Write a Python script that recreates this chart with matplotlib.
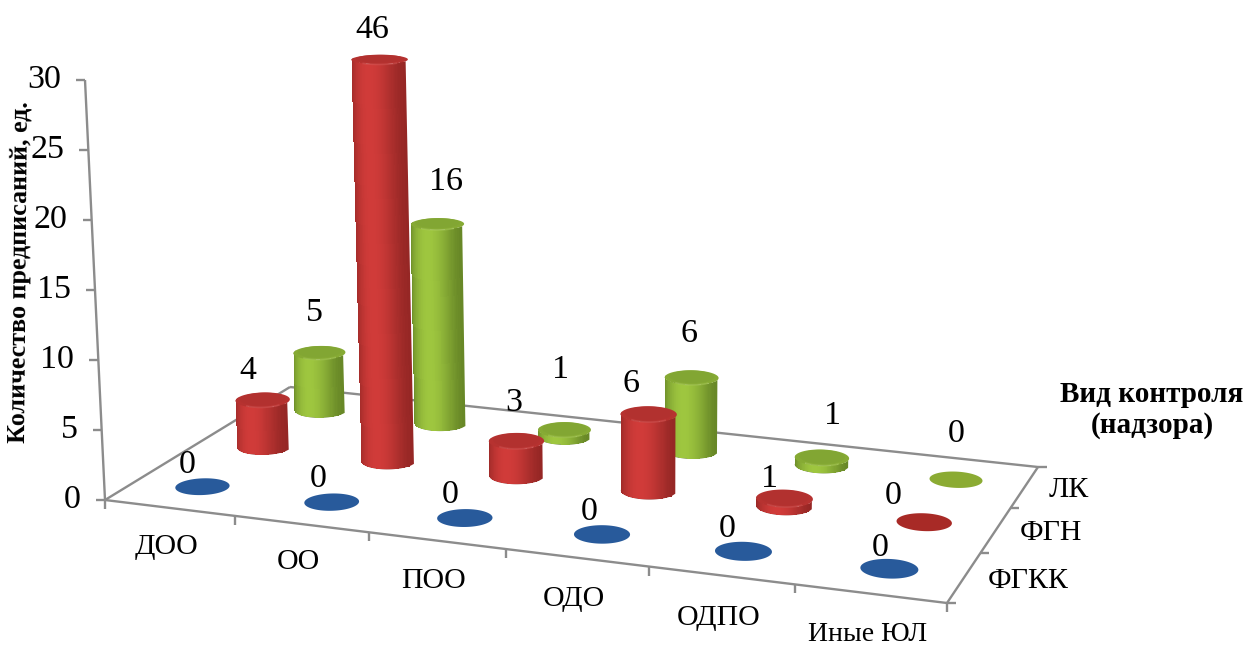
import numpy as np
import matplotlib
matplotlib.use("Agg")
import matplotlib.pyplot as plt
from matplotlib.colors import LinearSegmentedColormap, to_rgb
from matplotlib.patches import Polygon

categories = ["ДОО", "ОО", "ПОО", "ОДО", "ОДПО", "Иные ЮЛ"]
series_names = ["ФГКК", "ФГН", "ЛК"]
fgkk = [0, 0, 0, 0, 0, 0]
fgn = [4, 46, 3, 6, 1, 0]
lk = [5, 16, 1, 6, 1, 0]
y_ticks = [0, 5, 10, 15, 20, 25, 30]

plt.rcParams["font.family"] = ["Liberation Serif", "DejaVu Serif"]

# floor corners, top of the value axis and vertical vanishing line, in pixels
src = [(0, 0), (6, 0), (6, 3), (0, 3)]
dst = [(105, 500), (947, 603), (1038, 467), (290, 387)]
AXIS_TOP_Y = 80
Y_MAX = 30
VP_X = 650
VP_DIST = 11445
BAR_LIMIT = 30
CAP_INSET = 0.45
RADIUS = 0.19
BODY_RADIUS = 0.198

A = []
b = []
for (u, v), (x, y) in zip(src, dst):
    A.append([u, v, 1, 0, 0, 0, -u * x, -v * x])
    b.append(x)
    A.append([0, 0, 0, u, v, 1, -u * y, -v * y])
    b.append(y)
H = np.append(np.linalg.solve(np.array(A, float), np.array(b, float)), 1).reshape(3, 3)
ZY = (AXIS_TOP_Y - dst[0][1]) / Y_MAX


def project(u, v, z=0):
    w = H[2, 0] * u + H[2, 1] * v + H[2, 2]
    x = (H[0, 0] * u + H[0, 1] * v + H[0, 2]) / w
    y = (H[1, 0] * u + H[1, 1] * v + H[1, 2]) / w
    rise = ZY * z / w
    return x - (x - VP_X) * rise / VP_DIST, y + rise


def mix(c1, c2, t):
    c1 = np.array(to_rgb(c1))
    c2 = np.array(to_rgb(c2))
    return tuple(c1 + (c2 - c1) * t)


def bar_height(value):
    return min(value - CAP_INSET, BAR_LIMIT)


def draw_cylinder(ax, u, v, value, dark, light, flat, z):
    angles = np.linspace(0, 2 * np.pi, 181)
    if value == 0:
        bx, by = project(u + RADIUS * np.cos(angles), v + RADIUS * np.sin(angles), 0)
        ax.add_patch(Polygon(np.c_[bx, by], fc=flat, ec="none", zorder=z))
        return
    r = BODY_RADIUS
    height = bar_height(value)
    tx, ty = project(u + r * np.cos(angles), v + r * np.sin(angles), height)
    cx, cy = project(u, v, height)
    # smooth silhouette of the side first, the strips stay just inside it
    whole = np.linspace(-1, 1, 61)
    wu = u + r * whole
    wv = v - r * np.sqrt(1 - whole ** 2)
    ox, oy = project(wu, wv, 0)
    px, py = project(wu, wv, height)
    ax.add_patch(Polygon(np.r_[np.c_[ox, oy], np.c_[px, py][::-1]], fc=dark, ec="none", zorder=z))
    across = np.linspace(-0.96, 0.96, 61)
    su = u + r * across
    sv = v - r * np.sqrt(1 - across ** 2) * 0.97
    bx, by = project(su, sv, 0)
    ux, uy = project(su, sv, height)
    middle = 0.5 * (across[:-1] + across[1:])
    tone = ((1 - middle ** 2) ** 1.3).reshape(1, -1)
    cmap = LinearSegmentedColormap.from_list("side", [dark, light])
    ax.pcolormesh(np.vstack([bx, ux]), np.vstack([by, uy]), tone, shading="flat", cmap=cmap,
                  vmin=0, vmax=1, antialiased=False, zorder=z + 0.05)
    # top cap with a soft highlight along its front edge
    ax.add_patch(Polygon(np.c_[tx, ty], fc=mix(dark, light, 0.55), ec="none", zorder=z + 0.1))
    ix, iy = project(u + r * 0.84 * np.cos(angles), v + r * 0.84 * np.sin(angles), height)
    ax.add_patch(Polygon(np.c_[ix, iy - 1], fc=mix(dark, light, 0.48), ec="none", zorder=z + 0.2))
    rim = (iy > cy) & (np.abs(ix - cx) < 0.3 * (tx.max() - tx.min()))
    order = np.argsort(ix[rim])
    ax.plot(ix[rim][order], iy[rim][order] + 1, color=mix(light, "white", 0.2), lw=1.2, alpha=0.4, zorder=z + 0.3)


fig = plt.figure(figsize=(12.47, 6.46), dpi=100)
ax = fig.add_axes([0, 0, 1, 1])
ax.set_xlim(0, 1247)
ax.set_ylim(646, 0)
ax.axis("off")

GREY = "#8c8c8c"


def line(p, q, lw=1.7):
    ax.plot([p[0], q[0]], [p[1], q[1]], color=GREY, lw=lw, solid_capstyle="butt", zorder=1)


# floor outline and value axis
line(project(0, 0), project(6, 0))
line(project(6, 0), project(6, 3))
line(project(0, 0), project(0, 3))
line(project(0, 3), project(6, 3))
line(project(0, 0), project(0, 0, Y_MAX))

for t in y_ticks:
    x, y = project(0, 0, t)
    line((x - 9, y), (x, y))
    ax.text(x - 24, y, str(t), ha="right", va="center", fontsize=24.5, zorder=100)

for i in range(len(categories) + 1):
    x, y = project(i, 0)
    line((x, y), (x, y + 9))
for i in range(len(series_names) + 1):
    x, y = project(6, i)
    line((x, y), (x + 9, y))

cat_dy = [39, 38, 40, 41, 43, 41]
cat_size = [21.5, 21.5, 21.5, 21.5, 21.5, 20]
for i, name in enumerate(categories):
    x, y = project(i + 0.5, 0)
    ax.text(x - 3, y + cat_dy[i], name, ha="center", va="center", fontsize=cat_size[i], zorder=100)
for i, name in enumerate(series_names):
    x, y = project(6, i + 0.5)
    ax.text(x + 24, y + 3, name, ha="left", va="center", fontsize=21.5, zorder=100)

styles = [
    ("#1f4f8c", "#2f66ad", "#285a9b"),
    ("#962725", "#d03b39", "#a82a26"),
    ("#688827", "#9ec63f", "#8bab33"),
]
all_values = [fgkk, fgn, lk]
label_dx = [
    [-15, -14, -15, -13, -16, -9],
    [-15, -7, -3, -18, -15, -31],
    [-5, 8, -4, -3, 11, 0],
]
label_dy = [
    [-22, -23, -23, -23, -22, -21],
    [-29, -30, -38, -30, -20, -26],
    [-40, -42, -60, -44, -42, -46],
]

# painted back to front
z = 2
for s in [2, 1, 0]:
    for i in range(len(categories)):
        draw_cylinder(ax, i + 0.5, s + 0.5, all_values[s][i], *styles[s], z)
        z += 1

for s in [2, 1, 0]:
    for i in range(len(categories)):
        value = all_values[s][i]
        height = bar_height(value) if value > 0 else 0
        x, y = project(i + 0.5, s + 0.5, height)
        ax.text(x + label_dx[s][i], y + label_dy[s][i], str(value), ha="center", va="center",
                fontsize=24.5, zorder=100)

ax.text(20, 272, "Количество предписаний, ед.", rotation=89.5, ha="center", va="center",
        fontsize=18.7, fontweight="bold", zorder=100)
ax.text(1152, 410, "Вид контроля\n(надзора)", ha="center", va="center", fontsize=21,
        fontweight="bold", linespacing=1.15, zorder=100)

fig.savefig("out.png", dpi=100)
plt.close(fig)
